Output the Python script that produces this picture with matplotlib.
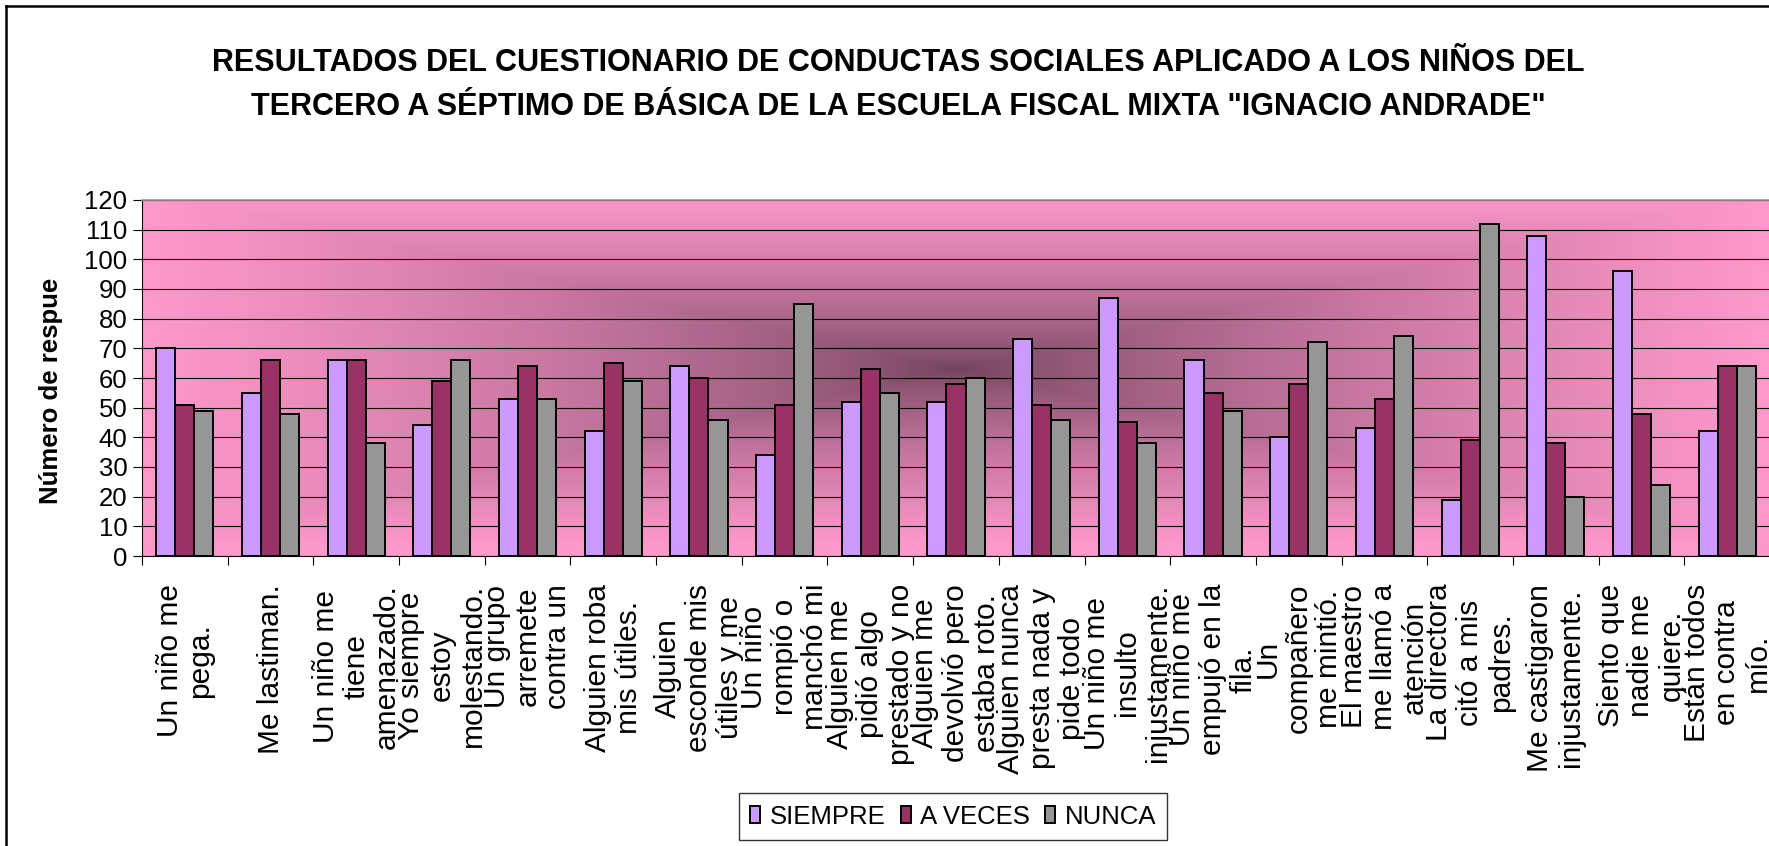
import matplotlib
matplotlib.use("Agg")
import matplotlib.pyplot as plt
from matplotlib.lines import Line2D
import numpy as np

W, H = 1769, 846

categories = [
    "Un niño me\npega.",
    "Me lastiman.",
    "Un niño me\ntiene\namenazado.",
    "Yo siempre\nestoy\nmolestando.",
    "Un grupo\narremete\ncontra un",
    "Alguien roba\nmis útiles.",
    "Alguien\nesconde mis\nútiles y me",
    "Un niño\nrompió o\nmanchó mi",
    "Alguien me\npidió algo\nprestado y no",
    "Alguien me\ndevolvió pero\nestaba roto.",
    "Alguien nunca\npresta nada y\npide todo",
    "Un niño me\ninsulto\ninjustamente.",
    "Un niño me\nempujó en la\nfila.",
    "Un\ncompañero\nme mintió.",
    "El maestro\nme llamó a\natención",
    "La directora\ncitó a mis\npadres.",
    "Me castigaron\ninjustamente.",
    "Siento que\nnadie me\nquiere.",
    "Están todos\nen contra\nmío.",
]
siempre = [70, 55, 66, 44, 53, 42, 64, 34, 52, 52, 73, 87, 66, 40, 43, 19, 108, 96, 42]
a_veces = [51, 66, 66, 59, 64, 65, 60, 51, 63, 58, 51, 45, 55, 58, 53, 39, 38, 48, 64]
nunca = [49, 48, 38, 66, 53, 59, 46, 85, 55, 60, 46, 38, 49, 72, 74, 112, 20, 24, 64]
series_names = ["SIEMPRE", "A VECES", "NUNCA"]
series_colors = ["#CC99FF", "#993366", "#969696"]
yticks = list(range(0, 121, 10))

title = ('RESULTADOS DEL CUESTIONARIO DE CONDUCTAS SOCIALES APLICADO A LOS NIÑOS DEL\n'
         'TERCERO A SÉPTIMO DE BÁSICA DE LA ESCUELA FISCAL MIXTA "IGNACIO ANDRADE"')

arial = ["Liberation Sans", "DejaVu Sans"]

fig = plt.figure(figsize=(W / 100, H / 100), dpi=100)
fig.patch.set_facecolor("white")

# plot area in pixels: left 142, right ~1770, top 200, bottom 556
ax = fig.add_axes([142 / W, 1 - 556 / H, 1628 / W, 356 / H])

n = len(categories)
x = np.arange(n)

# centre gradient of the plot area (pink edges, dark plum centre)
gx = np.linspace(-1, 1, 900)
gy = np.linspace(-1, 1, 300)
GX, GY = np.meshgrid(gx, gy)
t = np.clip(np.maximum(np.abs(GX), np.abs(GY + 0.05)), 0, 1)
edge = np.array([255, 153, 204]) / 255
dark = np.array([112, 66, 92]) / 255
img = dark + (edge - dark) * t[..., None] ** 0.7
ax.imshow(img, extent=(-0.5, n - 0.5, 0, 120), aspect="auto", zorder=0,
          interpolation="bilinear")

bw = 2 / 9
for i, (vals, col, name) in enumerate(zip([siempre, a_veces, nunca], series_colors, series_names)):
    ax.bar(x + (i - 1) * bw, vals, width=bw, color=col, edgecolor="black",
           linewidth=1.4, label=name, zorder=3)

ax.set_xlim(-0.5, n - 0.5)
ax.set_ylim(0, 120)
ax.set_yticks(yticks)
ax.set_yticklabels([str(v) for v in yticks], fontsize=18.5, family=arial)
ax.yaxis.grid(True, color="black", linewidth=0.8, zorder=1)
ax.set_axisbelow(True)
ax.tick_params(axis="y", direction="out", length=6.5, width=0.8, pad=4)

ax.set_xticks(np.arange(-0.5, n, 1.0))
ax.set_xticklabels([])
ax.tick_params(axis="x", which="major", direction="out", length=6.5, width=0.8)
ax.set_xticks(x, minor=True)
ax.set_xticklabels(categories, minor=True, rotation=90, fontsize=21.5,
                   family=arial, linespacing=1.12)
ax.tick_params(axis="x", which="minor", length=0, pad=20)

for side in ["top", "right"]:
    ax.spines[side].set_color("#999999")
    ax.spines[side].set_linewidth(1.2)
for side in ["left", "bottom"]:
    ax.spines[side].set_color("black")
    ax.spines[side].set_linewidth(0.8)

fig.text(898 / W, 1 - 85 / H, title, ha="center", va="center", fontsize=22,
         fontweight="bold", family=arial, linespacing=1.6)
fig.text(51 / W, 1 - 391 / H, "Número de respue", rotation=90, ha="center",
         va="center", fontsize=18.5, fontweight="bold", family=arial)

leg = fig.legend(loc="center", bbox_to_anchor=(953 / W, 1 - 816.5 / H), ncol=3,
                 prop={"family": arial, "size": 18.5}, frameon=True, fancybox=False,
                 edgecolor="black", handlelength=0.4, handleheight=0.65,
                 handletextpad=0.35, columnspacing=0.6, borderpad=0.45)
leg.get_frame().set_linewidth(1.0)

# outer chart border (left and top visible)
fig.add_artist(Line2D([6 / W, 6 / W], [0, 1 - 6 / H], color="black", lw=1.8,
                      transform=fig.transFigure))
fig.add_artist(Line2D([6 / W, 1], [1 - 6 / H, 1 - 6 / H], color="black", lw=1.8,
                      transform=fig.transFigure))

fig.savefig("out.png", dpi=100)
